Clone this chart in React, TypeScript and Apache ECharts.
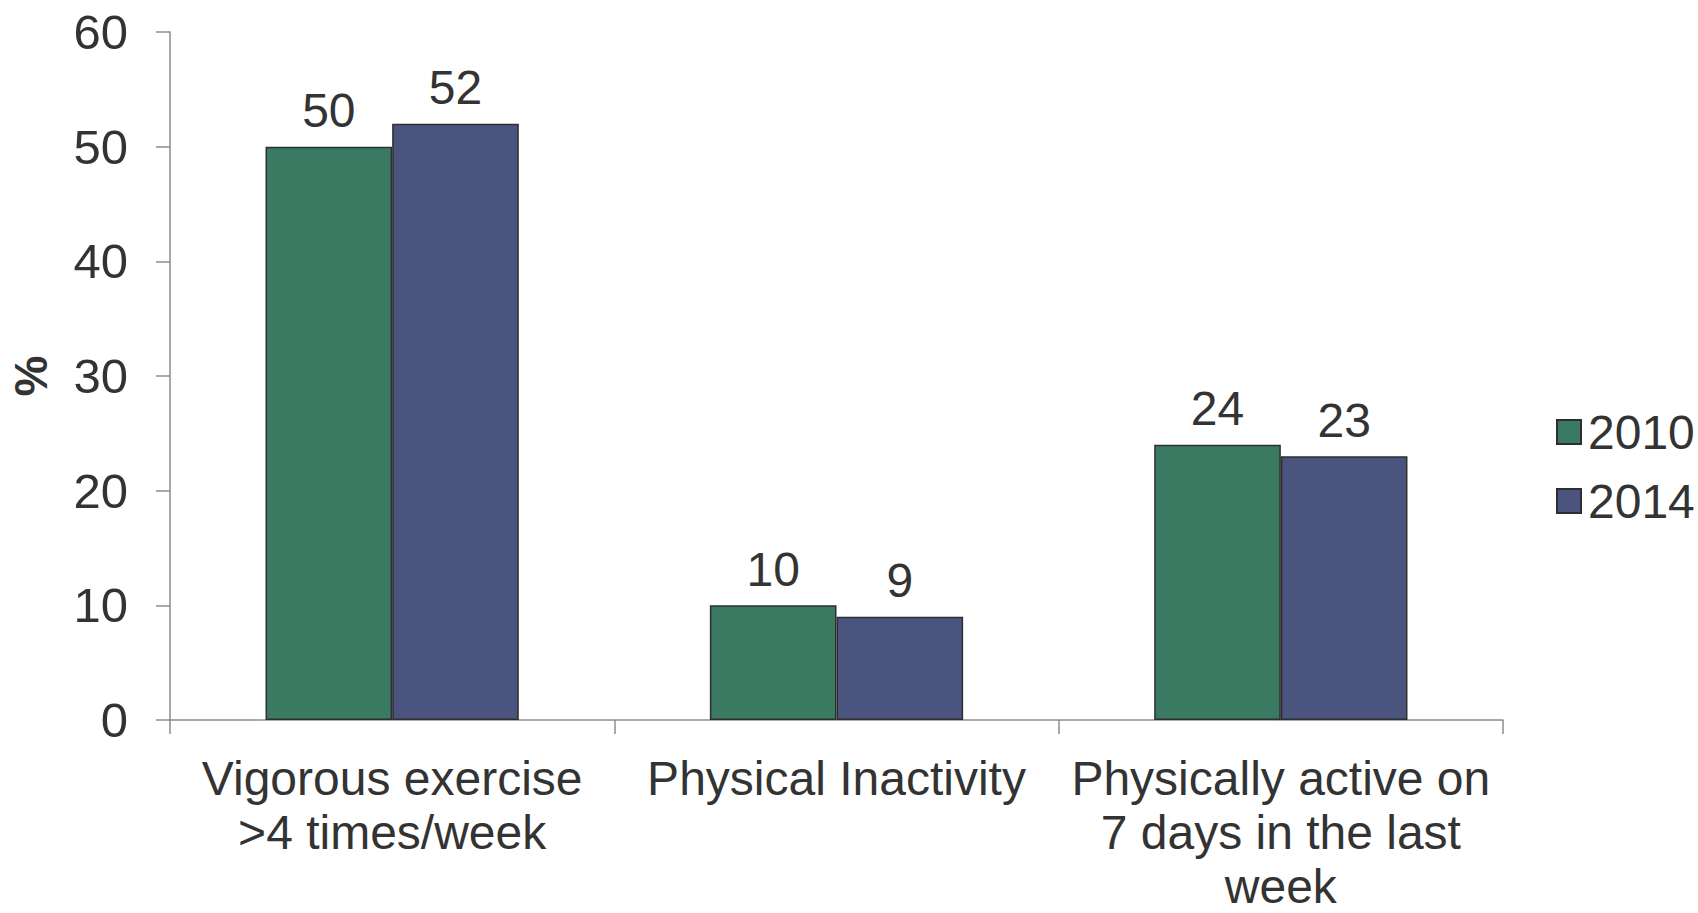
import React, { useEffect, useRef } from "react";
import * as echarts from "echarts";

const categories = [
  "Vigorous exercise\n>4 times/week",
  "Physical Inactivity",
  "Physically active on\n7 days in the last\nweek",
];
const values2010 = [50, 10, 24];
const values2014 = [52, 9, 23];
const yTicks = [0, 10, 20, 30, 40, 50, 60];

const FONT = "'Liberation Sans', Arial, sans-serif";
const TEXT = "#333333";
const AXIS = "#8c8c8c";

export default function App() {
  const ref = useRef<HTMLDivElement>(null);

  useEffect(() => {
    document.body.style.margin = "0";
    const chart = echarts.init(ref.current!, undefined, { renderer: "svg" });
    const barLabel = {
      show: true,
      position: "top" as const,
      distance: 12,
      fontSize: 48,
      fontFamily: FONT,
      color: TEXT,
    };
    chart.setOption({
      animation: false,
      backgroundColor: "#ffffff",
      textStyle: { fontFamily: FONT, color: TEXT },
      grid: { left: 162, right: 195, top: 32, bottom: 187 },
      legend: {
        orient: "vertical",
        left: 1551,
        top: 403,
        itemWidth: 24,
        itemHeight: 24,
        itemGap: 21,
        icon: "rect",
        textStyle: { fontSize: 48, fontFamily: FONT, color: TEXT, padding: [0, 0, 0, 2] },
        data: ["2010", "2014"],
      },
      xAxis: {
        type: "category",
        data: categories,
        axisLine: { lineStyle: { color: AXIS, width: 1.5 } },
        axisTick: { show: true, length: 14, lineStyle: { color: AXIS, width: 1.5 } },
        axisLabel: {
          interval: 0,
          margin: 31,
          fontSize: 48,
          lineHeight: 54,
          fontFamily: FONT,
          color: TEXT,
          align: "center",
        },
      },
      yAxis: {
        type: "value",
        min: 0,
        max: 60,
        interval: 10,
        name: "%",
        nameLocation: "middle",
        nameGap: 116,
        nameTextStyle: { fontSize: 46, fontWeight: "bold", fontFamily: FONT, color: TEXT },
        axisLine: { show: true, lineStyle: { color: AXIS, width: 1.5 } },
        axisTick: { show: true, length: 14, lineStyle: { color: AXIS, width: 1.5 } },
        splitLine: { show: false },
        axisLabel: {
          margin: 42,
          fontSize: 49,
          fontFamily: FONT,
          color: TEXT,
          formatter: (v: number) => (yTicks.includes(v) ? String(v) : ""),
        },
      },
      series: [
        {
          name: "2010",
          type: "bar",
          data: values2010,
          barGap: "0%",
          barCategoryGap: "43%",
          itemStyle: { color: "#3a7a62", borderColor: "#2e2e2e", borderWidth: 1.5 },
          label: barLabel,
        },
        {
          name: "2014",
          type: "bar",
          data: values2014,
          barGap: "0%",
          barCategoryGap: "43%",
          itemStyle: { color: "#4b547f", borderColor: "#2e2e2e", borderWidth: 1.5 },
          label: barLabel,
        },
      ],
    });
    return () => chart.dispose();
  }, []);

  return <div ref={ref} style={{ width: 1698, height: 913 }} />;
}
